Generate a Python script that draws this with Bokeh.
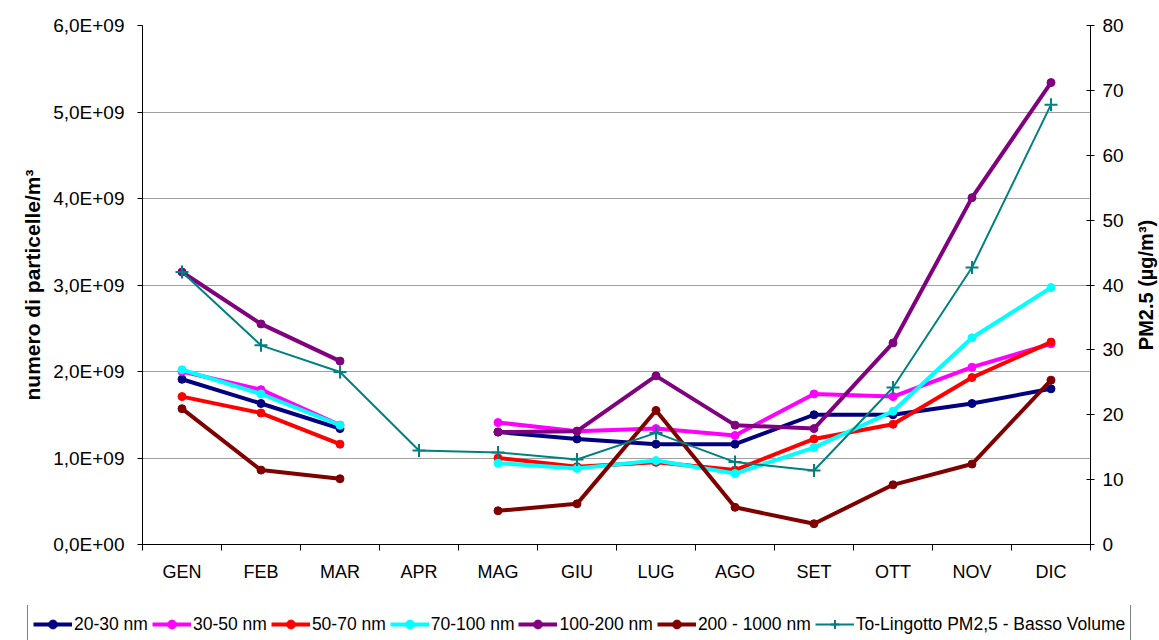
import math
from bokeh.plotting import figure
from bokeh.layouts import row
from bokeh.models import (Range1d, LinearAxis, FixedTicker, CustomJSTickFormatter,
                          Legend, LegendItem, Label)
from bokeh.embed import file_html
from bokeh.resources import INLINE

nan = float("nan")

months = ["GEN", "FEB", "MAR", "APR", "MAG", "GIU", "LUG", "AGO", "SET", "OTT", "NOV", "DIC"]

s20_30 = [1.91e9, 1.63e9, 1.34e9, nan, 1.30e9, 1.22e9, 1.16e9, 1.16e9, 1.50e9, 1.50e9, 1.63e9, 1.80e9]
s30_50 = [2.00e9, 1.79e9, 1.38e9, nan, 1.41e9, 1.31e9, 1.34e9, 1.26e9, 1.74e9, 1.71e9, 2.05e9, 2.32e9]
s50_70 = [1.71e9, 1.52e9, 1.16e9, nan, 1.00e9, 0.90e9, 0.95e9, 0.86e9, 1.22e9, 1.39e9, 1.93e9, 2.34e9]
s70_100 = [2.02e9, 1.74e9, 1.38e9, nan, 0.94e9, 0.88e9, 0.97e9, 0.82e9, 1.12e9, 1.54e9, 2.39e9, 2.97e9]
s100_200 = [3.15e9, 2.55e9, 2.12e9, nan, 1.30e9, 1.31e9, 1.95e9, 1.38e9, 1.34e9, 2.33e9, 4.01e9, 5.34e9]
s200_1000 = [1.57e9, 0.86e9, 0.76e9, nan, 0.39e9, 0.47e9, 1.55e9, 0.43e9, 0.24e9, 0.69e9, 0.93e9, 1.90e9]
pm25 = [42.0, 30.7, 26.6, 14.5, 14.2, 13.1, 17.2, 12.7, 11.4, 24.2, 42.7, 67.8]

left_ticks = [0, 1e9, 2e9, 3e9, 4e9, 5e9, 6e9]
right_ticks = [0, 10, 20, 30, 40, 50, 60, 70, 80]

FONT = "Liberation Sans"
W = 1159
W_TITLE = 31

x = [i + 0.5 for i in range(len(months))]

p = figure(width=W - W_TITLE, height=605, output_backend="svg", toolbar_location=None,
           x_range=Range1d(0, len(months)), y_range=Range1d(0, 6e9),
           min_border_left=142, min_border_right=38, min_border_top=25, min_border_bottom=61)
p.extra_y_ranges = {"pm": Range1d(0, 80)}
p.outline_line_color = None
p.background_fill_color = "white"
p.border_fill_color = "white"

# x axis
xa = p.xaxis[0]
xa.ticker = FixedTicker(ticks=x, minor_ticks=list(range(len(months) + 1)))
xa.formatter = CustomJSTickFormatter(args=dict(months=months),
                                     code="return months[Math.floor(tick)];")
xa.major_tick_line_color = None
xa.major_tick_out = 0
xa.major_tick_in = 0
xa.minor_tick_line_color = "black"
xa.minor_tick_out = 6
xa.minor_tick_in = 0
xa.major_label_standoff = 11
xa.major_label_text_font = FONT
xa.major_label_text_font_size = "18px"
xa.major_label_text_color = "black"
xa.axis_line_color = "black"

# left y axis
ya = p.yaxis[0]
ya.ticker = FixedTicker(ticks=left_ticks)
ya.formatter = CustomJSTickFormatter(code="""
const s = tick.toExponential(1).replace('.', ',');
const m = s.match(/^(-?[\\d,]+)e([+-])(\\d+)$/);
let e = m[3]; if (e.length < 2) e = '0' + e;
return m[1] + 'E' + m[2] + e;
""")
ya.major_tick_out = 5
ya.major_tick_in = 0
ya.minor_tick_line_color = None
ya.major_label_standoff = 13
ya.major_label_text_font = FONT
ya.major_label_text_font_size = "19px"
ya.major_label_text_color = "black"
ya.axis_label = "numero di particelle/m³"
ya.axis_label_text_font = FONT
ya.axis_label_text_font_style = "bold"
ya.axis_label_text_font_size = "21px"
ya.axis_label_text_color = "black"
ya.axis_label_standoff = 6
ya.axis_line_color = "black"

# right y axis (ticks and numbers)
ra = LinearAxis(y_range_name="pm", ticker=FixedTicker(ticks=right_ticks))
ra.major_tick_out = 4
ra.major_tick_in = 4
ra.minor_tick_line_color = None
ra.major_label_standoff = 8
ra.major_label_text_font = FONT
ra.major_label_text_font_size = "19px"
ra.major_label_text_color = "black"
ra.axis_line_color = "black"
p.add_layout(ra, "right")

p.xgrid.visible = False
p.ygrid.ticker = FixedTicker(ticks=left_ticks)
p.ygrid.grid_line_color = "#a0a0a0"
p.ygrid.grid_line_width = 1

# right axis title, reading bottom-to-top, in a narrow strip beside the chart
pt = figure(width=W_TITLE, height=605, output_backend="svg", toolbar_location=None,
            x_axis_location=None, y_axis_location=None,
            x_range=Range1d(0, 1), y_range=Range1d(0, 1),
            min_border=0, min_border_left=0, min_border_right=0)
pt.grid.visible = False
pt.outline_line_color = None
pt.add_layout(Label(x=0.56, y=0.5, text="PM2.5 (µg/m³)", angle=math.pi / 2,
                    text_align="center", text_baseline="middle",
                    text_font=FONT, text_font_style="bold", text_font_size="20px",
                    text_color="black"))

series = [
    ("20-30 nm", s20_30, "#000080"),
    ("30-50 nm", s30_50, "#FF00FF"),
    ("50-70 nm", s50_70, "#FF0000"),
    ("70-100 nm", s70_100, "#00FFFF"),
    ("100-200 nm", s100_200, "#800080"),
    ("200 - 1000 nm", s200_1000, "#800000"),
]

# legend strip: separate figure below; its sample glyphs fall outside its view
p2 = figure(width=W, height=35, output_backend="svg", toolbar_location=None,
            x_axis_location=None, y_axis_location=None,
            x_range=Range1d(0, 1), y_range=Range1d(-2, -1),
            min_border=0, min_border_left=0, min_border_right=0,
            min_border_top=0, min_border_bottom=0)
p2.grid.visible = False
p2.outline_line_color = None

items = []
for label, vals, color in series:
    p.line(x, vals, line_color=color, line_width=4)
    p.scatter(x, vals, marker="circle", size=8, fill_color=color, line_color=color)
    lr = p2.line(x, vals, line_color=color, line_width=4)
    sr = p2.scatter(x, vals, marker="circle", size=8, fill_color=color, line_color=color)
    items.append(LegendItem(label=label, renderers=[lr, sr]))

p.line(x, pm25, line_color="#008080", line_width=2, y_range_name="pm")
p.scatter(x, pm25, marker="cross", size=13, line_color="#008080", line_width=2,
          y_range_name="pm")
tl = p2.line(x, pm25, line_color="#008080", line_width=2)
ts = p2.scatter(x, pm25, marker="cross", size=13, line_color="#008080", line_width=2)
items.append(LegendItem(label="To-Lingotto PM2,5 - Basso Volume", renderers=[tl, ts]))

legend = Legend(items=items, orientation="horizontal", location=(27, -5),
                label_text_font=FONT, label_text_font_size="17.5px",
                label_text_color="black",
                glyph_width=39, glyph_height=22, label_height=30,
                label_standoff=2, spacing=4, padding=5, margin=0,
                border_line_color="black", border_line_width=1,
                background_fill_color="white", background_fill_alpha=1.0)
p2.add_layout(legend)

open("out.html", "w").write(file_html([row(p, pt), p2], INLINE))
